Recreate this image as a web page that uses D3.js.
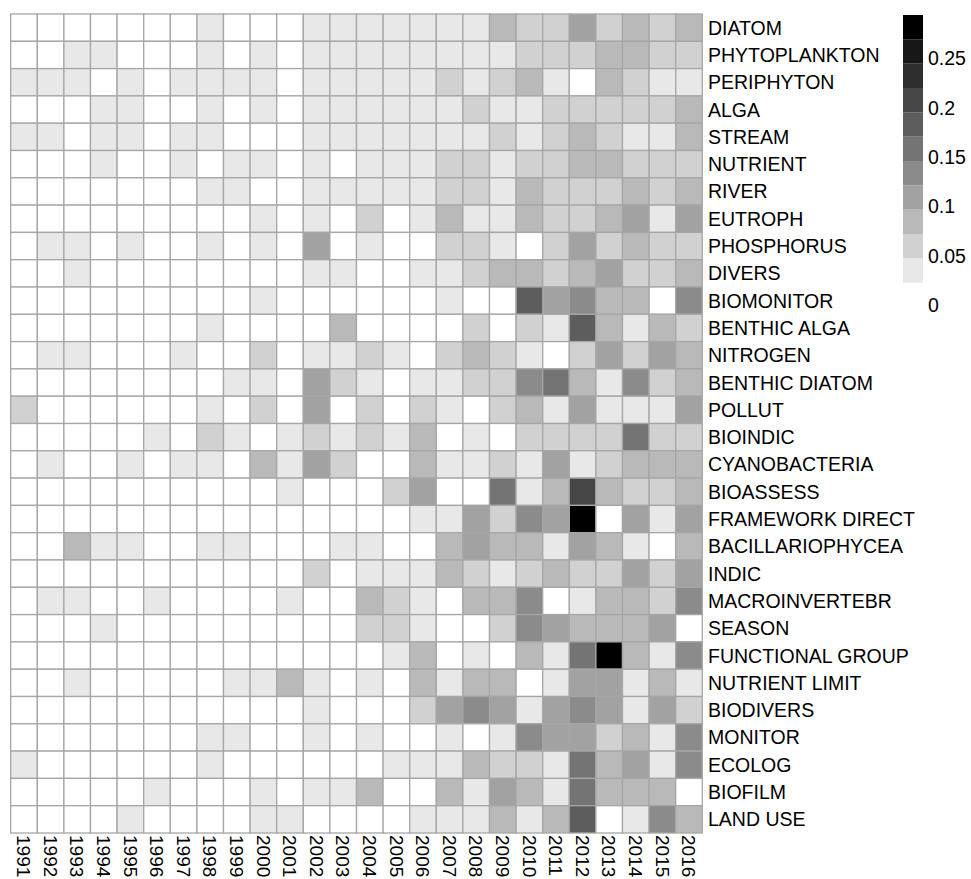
<!DOCTYPE html>
<html>
<head>
<meta charset="utf-8">
<script src="https://cdn.jsdelivr.net/npm/d3@7"></script>
<style>
  body { margin: 0; background: #fff; }
  text { font-family: "Liberation Sans", Arial, sans-serif; fill: #000; }
</style>
</head>
<body>
<div id="heatmap"></div>
<script>
var width = 971,
    height = 879;

var years = ["1991","1992","1993","1994","1995","1996","1997","1998","1999","2000","2001","2002","2003",
  "2004","2005","2006","2007","2008","2009","2010","2011","2012","2013","2014","2015","2016"];

var terms = ["DIATOM","PHYTOPLANKTON","PERIPHYTON","ALGA","STREAM","NUTRIENT","RIVER","EUTROPH",
  "PHOSPHORUS","DIVERS","BIOMONITOR","BENTHIC ALGA","NITROGEN","BENTHIC DIATOM","POLLUT","BIOINDIC",
  "CYANOBACTERIA","BIOASSESS","FRAMEWORK DIRECT","BACILLARIOPHYCEA","INDIC","MACROINVERTEBR","SEASON",
  "FUNCTIONAL GROUP","NUTRIENT LIMIT","BIODIVERS","MONITOR","ECOLOG","BIOFILM","LAND USE"];

// one row per term, one value per year
var values = [
  [0,0,0,0,0,0,0,.04,0,0,0,.04,.04,.04,.04,.04,.04,.04,.09,.06,.06,.11,.06,.09,.06,.09],
  [0,0,.04,.04,0,0,0,.04,0,.04,0,.04,.04,.04,.04,.04,.04,.04,.04,.06,.06,.06,.09,.09,.06,.06],
  [.04,.04,.04,0,.04,0,.04,.04,.04,.04,0,.04,.04,.04,.04,.04,.06,.04,.06,.09,.04,0,.09,.06,.04,.04],
  [0,0,0,.04,.04,0,0,.04,0,.04,0,.04,.04,.04,.04,.04,.04,.06,.04,.04,.06,.06,.06,.06,.06,.09],
  [.04,.04,0,.04,.04,0,.04,.04,0,0,0,.04,.04,.04,.04,.04,.04,.04,.06,.04,.06,.09,.06,.04,.04,.09],
  [0,0,0,.04,0,0,.04,0,.04,.04,0,.04,0,.04,.04,.04,.06,.06,.04,.06,.06,.09,.09,.06,.06,.06],
  [0,0,0,0,0,0,0,.04,.04,0,0,.04,.04,.04,.04,.04,.06,.06,.04,.09,.06,.06,.06,.09,.06,.09],
  [0,0,0,0,0,0,0,0,0,.04,0,.04,0,.06,0,.04,.09,.04,.04,.09,.06,.06,.09,.11,.04,.11],
  [0,.04,.04,0,.04,0,0,.04,0,.04,0,.11,0,.04,0,0,.06,.06,.04,0,.06,.11,.06,.09,.06,.06],
  [0,0,.04,0,0,0,0,0,0,0,0,.04,.04,0,0,.04,.04,.06,.09,.09,.06,.09,.11,.06,.06,.09],
  [0,0,0,0,0,0,0,0,0,.04,0,0,0,0,0,0,.04,0,0,.19,.11,.14,.09,.09,0,.14],
  [0,0,0,0,0,0,0,.04,0,0,0,0,.09,0,0,0,0,.06,0,.06,.04,.19,.09,.04,.09,.06],
  [0,.04,.04,0,0,0,.04,0,0,.06,0,.04,.04,.06,.04,0,.06,.09,.06,.04,0,.06,.11,.06,.11,.09],
  [0,0,0,0,0,0,0,0,.04,.04,0,.11,.06,.04,0,.04,.04,.06,.06,.14,.16,.09,.04,.14,.06,.09],
  [.06,0,0,0,0,0,0,.04,0,.06,0,.11,0,.06,0,.06,.04,0,.06,.09,.04,.11,.04,.04,.04,.11],
  [0,0,0,0,0,.04,0,.06,.04,0,.04,.06,.04,.06,.04,.09,0,.04,0,.06,.06,.06,.06,.16,.06,.06],
  [0,.04,0,0,.04,0,.04,.04,0,.09,.04,.11,.06,0,0,.09,.04,.04,.06,.04,.11,.04,.06,.09,.09,.09],
  [0,0,0,0,0,0,0,0,0,0,.04,0,0,0,.06,.11,0,0,.16,.04,.09,.21,.09,.06,.06,.09],
  [0,0,0,0,0,0,0,0,0,0,0,0,0,0,0,.04,.04,.11,.06,.14,.11,.29,0,.11,.04,.11],
  [0,0,.09,.04,.04,0,0,.04,.04,0,0,0,.04,.04,0,0,.09,.11,.09,.09,.04,.11,.09,.04,0,.09],
  [0,0,0,0,0,0,0,0,0,0,0,.06,0,.04,.04,.04,.09,.06,.04,.06,.09,.06,.06,.11,.06,.11],
  [0,.04,.04,0,0,.04,0,0,0,0,.04,0,0,.09,.06,.04,0,.09,.09,.14,0,.04,.09,.09,.06,.14],
  [0,0,0,.04,0,0,0,0,0,0,0,0,0,.06,.06,.04,0,0,.06,.14,.11,.09,.09,.09,.11,0],
  [0,0,0,0,0,0,0,0,0,0,0,0,0,0,.04,.09,0,.04,0,.09,.04,.16,.29,.09,.04,.14],
  [0,0,.04,0,0,0,0,0,.04,.04,.09,.04,0,.04,0,.09,.04,.09,.09,0,.04,.11,.11,.04,.09,.04],
  [0,0,0,0,0,0,0,0,0,0,0,.04,0,0,0,.06,.11,.14,.11,.04,.11,.14,.11,.04,.11,.06],
  [0,0,0,0,0,0,0,.04,.04,0,0,.04,0,.04,0,0,.04,0,.04,.14,.11,.11,.06,.09,.04,.14],
  [.04,0,0,0,0,0,0,.04,0,0,0,0,0,0,.04,.04,.04,.09,.06,.06,.04,.16,.09,.11,.04,.14],
  [0,0,0,0,0,.04,0,0,0,.04,0,.04,.04,.09,0,0,.09,.04,.11,.09,.04,.16,.09,.09,.09,0],
  [0,0,0,0,.04,0,0,0,0,.04,.04,0,0,0,0,.04,.04,.04,.09,.04,.09,.19,0,.04,.14,.09]
];

var legendTicks = [0, 0.05, 0.1, 0.15, 0.2, 0.25];
var maxValue = 0.296;

var nColors = 12;
var greys = d3.range(nColors).map(function(i) {
  return d3.interpolateRgb("#ffffff", "#000000")(i / (nColors - 1));
});

var color = d3.scaleQuantize()
    .domain([0, maxValue])
    .range(greys);

var x = d3.scaleBand()
    .domain(years)
    .range([10.7, 702.3]);

var y = d3.scaleBand()
    .domain(terms)
    .range([14, 833]);

var svg = d3.select("#heatmap").append("svg")
    .attr("width", width)
    .attr("height", height);

var cells = [];
values.forEach(function(row, i) {
  row.forEach(function(v, j) {
    cells.push({ term: terms[i], year: years[j], value: v });
  });
});

svg.append("g")
  .selectAll("rect")
  .data(cells)
  .enter().append("rect")
    .attr("x", function(d) { return x(d.year); })
    .attr("y", function(d) { return y(d.term); })
    .attr("width", x.bandwidth())
    .attr("height", y.bandwidth())
    .attr("fill", function(d) { return color(d.value); })
    .attr("stroke", "#a6a6a6")
    .attr("stroke-width", 1.3);

// row labels
svg.append("g")
  .selectAll("text")
  .data(terms)
  .enter().append("text")
    .attr("x", 708)
    .attr("y", function(d) { return y(d) + y.bandwidth() / 2; })
    .attr("dy", "0.36em")
    .style("font-size", "19.5px")
    .text(function(d) { return d; });

// year labels, rotated to read downwards
svg.append("g")
  .selectAll("text")
  .data(years)
  .enter().append("text")
    .attr("transform", function(d) {
      return "translate(" + (x(d) + x.bandwidth() / 2) + ",835) rotate(90)";
    })
    .attr("dy", "0.36em")
    .style("font-size", "19px")
    .text(function(d) { return d; });

// colour legend
var ly = d3.scaleLinear()
    .domain([0, maxValue])
    .range([307, 15]);

var step = maxValue / nColors;

var legend = svg.append("g");

legend.selectAll("rect")
  .data(greys)
  .enter().append("rect")
    .attr("x", 903)
    .attr("width", 20)
    .attr("y", function(d, i) { return ly((i + 1) * step); })
    .attr("height", function(d, i) { return ly(i * step) - ly((i + 1) * step); })
    .attr("fill", function(d) { return d; });

legend.selectAll("text")
  .data(legendTicks)
  .enter().append("text")
    .attr("x", 928)
    .attr("y", function(d) { return ly(d) - 2; })
    .attr("dy", "0.36em")
    .style("font-size", "19.5px")
    .text(function(d) { return d; });
</script>
</body>
</html>
